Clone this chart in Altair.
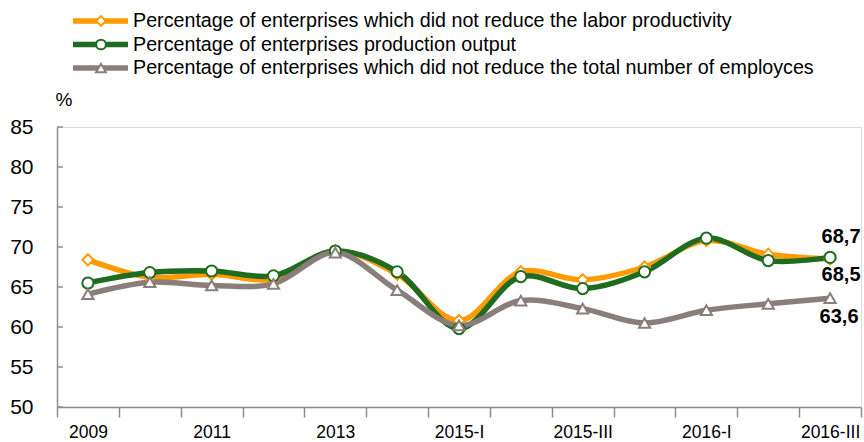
import altair as alt
import pandas as pd

periods = ["2009", "2010", "2011", "2012", "2013", "2014", "2015-I", "2015-II",
           "2015-III", "2015-IV", "2016-I", "2016-II", "2016-III"]
shown_labels = ["2009", "2011", "2013", "2015-I", "2015-III", "2016-I", "2016-III"]
y_ticks = [50, 55, 60, 65, 70, 75, 80, 85]

series_names = [
    "Percentage of enterprises which did not reduce the labor productivity",
    "Percentage of enterprises production output",
    "Percentage of enterprises which did not reduce the total number of employces",
]
labor = [68.4, 66.2, 66.6, 66.0, 69.5, 66.6, 60.8, 66.9, 65.9, 67.5, 70.8, 69.1, 68.5]
output = [65.5, 66.8, 67.0, 66.4, 69.5, 66.9, 59.8, 66.3, 64.8, 66.9, 71.1, 68.3, 68.7]
employees = [64.1, 65.6, 65.2, 65.4, 69.3, 64.6, 60.2, 63.3, 62.3, 60.5, 62.1, 62.9, 63.6]
end_labels = ["68,5", "68,7", "63,6"]

colors = ["#FF9A00", "#1F6B1F", "#8A7E7C"]
shapes = ["diamond", "circle", "triangle-up"]

FONT = "Liberation Sans, Arial, sans-serif"
AXIS_GREY = "#8C8C8C"

rows = []
for name, vals in zip(series_names, [labor, output, employees]):
    for p, v in zip(periods, vals):
        rows.append({"series": name, "period": p, "value": v})
df = pd.DataFrame(rows)

lab_df = pd.DataFrame({
    "series": series_names,
    "period": [periods[-1]] * 3,
    "value": [labor[-1], output[-1], employees[-1]],
    "label": end_labels,
    "order": [0, 1, 2],
})
tick_df = pd.DataFrame({"value": y_ticks})

color_scale = alt.Scale(domain=series_names, range=colors)
shape_scale = alt.Scale(domain=series_names, range=shapes)

label_expr = "indexof(" + str(shown_labels) + ", datum.label) >= 0 ? datum.label : ''"

x_enc = alt.X(
    "period:N", sort=periods, bandPosition=0.5,
    scale=alt.Scale(type="band", paddingInner=0, paddingOuter=0),
    axis=alt.Axis(title=None, tickBand="extent", labelExpr=label_expr, labelAngle=0,
                  domainColor=AXIS_GREY, tickColor=AXIS_GREY, tickSize=10,
                  domainWidth=1.5, tickWidth=1.5,
                  labelFont=FONT, labelFontSize=17.5, labelFontWeight="normal",
                  labelColor="#000000", labelPadding=6, grid=False),
)
y_axis = alt.Axis(values=y_ticks, tickCount=8, title="%", titleAngle=0,
                  titleX=-2, titleY=-22, titleAlign="left", titleBaseline="alphabetic",
                  titleFont=FONT, titleFontSize=19, titleFontWeight="normal",
                  domainColor=AXIS_GREY, ticks=False, tickSize=0,
                  domainWidth=1.5, labelOverlap=False,
                  labelFont=FONT, labelFontSize=21, labelColor="#000000",
                  labelPadding=24, grid=False)
y_scale = alt.Scale(domain=[50, 85], nice=False, zero=False)


def y_enc():
    return alt.Y("value:Q", scale=y_scale, axis=y_axis)


def x_enc2():
    return alt.X("period:N", sort=periods, bandPosition=0.5)


base = alt.Chart(df)
lines = base.mark_line(interpolate="catmull-rom", strokeWidth=5.5).encode(
    x=x_enc, y=y_enc(),
    color=alt.Color("series:N", scale=color_scale, legend=None),
    detail="series:N",
)
points = base.mark_point(fill="white", fillOpacity=1, strokeWidth=2, size=125, opacity=1).encode(
    x=x_enc2(),
    y=y_enc(),
    color=alt.Color("series:N", scale=color_scale, legend=None),
    shape=alt.Shape("series:N", scale=shape_scale, legend=None),
)
yticks = alt.Chart(tick_df).mark_rule(color=AXIS_GREY, strokeWidth=1.5).encode(
    y=y_enc(), x=alt.value(0), x2=alt.value(6),
)

offsets = [(11, 16), (11, -20), (9, 19)]
text_layers = []
for i, (ddx, ddy) in enumerate(offsets):
    text_layers.append(
        alt.Chart(lab_df).transform_filter(f"datum.order == {i}").mark_text(
            font=FONT, fontSize=20, fontWeight="bold",
            color="#000000", align="center", baseline="middle", dx=ddx, dy=ddy,
        ).encode(
            x=x_enc2(),
            y=y_enc(),
            text="label:N",
        )
    )

main = alt.layer(lines, yticks, points, *text_layers)

leg_df = pd.DataFrame({"series": series_names, "order": [0, 1, 2]})
leg_y = alt.Y("order:Q", scale=alt.Scale(domain=[0, 2], range=[-106, -59]), axis=None)
leg_base = alt.Chart(leg_df)
leg_rules = leg_base.mark_rule(strokeWidth=5.5).encode(
    x=alt.value(16), x2=alt.value(71), y=leg_y,
    color=alt.Color("series:N", scale=color_scale, legend=None),
)
leg_pts = leg_base.mark_point(fill="white", fillOpacity=1, strokeWidth=2, size=95, opacity=1).encode(
    x=alt.value(44), y=leg_y,
    color=alt.Color("series:N", scale=color_scale, legend=None),
    shape=alt.Shape("series:N", scale=shape_scale, legend=None),
)
leg_text = leg_base.mark_text(font=FONT, fontSize=19.7, align="left", baseline="middle",
                              color="#000000").encode(
    x=alt.value(76), y=leg_y, text="series:N",
)
legend = alt.layer(leg_rules, leg_pts, leg_text)

chart = alt.layer(main, legend).resolve_scale(y="independent").properties(
    width=804, height=280,
    autosize=alt.AutoSizeParams(type="none"),
    padding={"left": 57, "top": 127, "right": 3, "bottom": 35},
).configure_view(stroke=None).configure(background="white")

chart.save("out.html", embed_options={"renderer": "svg", "actions": False})
